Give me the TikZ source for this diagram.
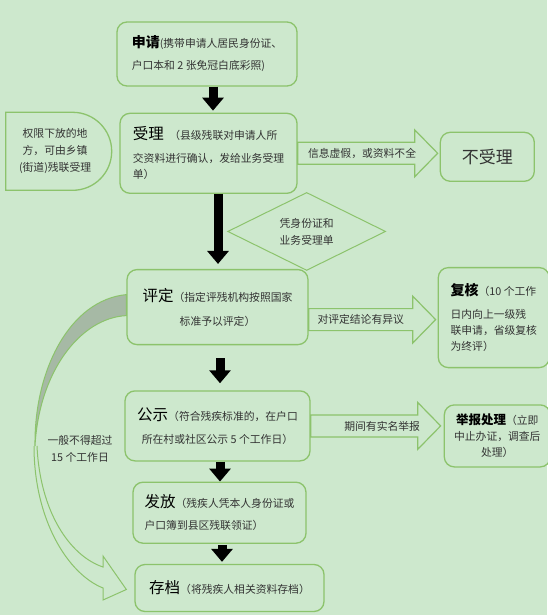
\documentclass[tikz,border=0pt]{standalone}
\usepackage{fontspec}
\setmainfont{Noto Sans CJK SC}
\usepackage{tikz}
\usetikzlibrary{arrows.meta,calc,positioning,shapes.geometric,shapes.misc}
\definecolor{flowbg}{HTML}{CDE8CD}
\definecolor{flowline}{HTML}{8CC36C}
\definecolor{flowtext}{HTML}{333333}
\definecolor{flowshade}{HTML}{A6B9A5}
\newcommand{\flowtitle}[1]{{\fontsize{15.5}{16}\selectfont\color{black}#1}}
\newcommand{\flowtitlebf}[1]{{\fontsize{14}{16}\selectfont\bfseries\color{black}#1}}
\tikzset{%
  flowbox/.style={%
    draw=flowline,
    line width=1.3pt,
    fill=flowbg,
    rounded corners=10pt,
    align=left,
    inner sep=0pt,
    text=flowtext,
    font=\fontsize{10.8}{16}\selectfont
  },
  sidebox/.style={%
    flowbox,
    sharp corners,
    rounded rectangle,
    rounded rectangle west arc=none,
    align=center,
    font=\fontsize{10.8}{17}\selectfont
  },
  diamondbox/.style={%
    diamond,
    draw=flowline,
    line width=1pt,
    fill=flowbg,
    aspect=2.03,
    inner sep=0pt,
    minimum width=158pt,
    minimum height=78pt,
    align=center,
    text=flowtext,
    font=\fontsize{10.8}{17}\selectfont
  },
  arrowlabel/.style={%
    inner sep=0pt,
    align=center,
    text=flowtext,
    font=\fontsize{10.8}{17}\selectfont
  },
  blockarrow/.style={%
    draw=flowline,
    line width=1.2pt,
    fill=flowbg,
    line join=miter,
    to path={($(\tikztostart)+(0,-11)$) -- ($(\tikztotarget)+(-23,-11)$)
      -- ($(\tikztotarget)+(-23,-23.5)$) -- (\tikztotarget)
      -- ($(\tikztotarget)+(-23,23.5)$) -- ($(\tikztotarget)+(-23,11)$)
      -- ($(\tikztostart)+(0,11)$) -- cycle}
  },
  blackarrow/.style={-{Triangle[length=13pt,width=21pt]},line width=9pt,draw=black},
  curvearrow/.style={draw=flowline,line width=1pt}
}
\begin{document}
\begin{tikzpicture}[x=1pt,y=-1pt]
    \useasboundingbox (0,0) rectangle (547,615);
    \fill[flowbg] (0,0) rectangle (547,615);

    \node[flowbox,minimum width=180pt,minimum height=64pt] (shenqing) at (207,54)
      {\flowtitlebf{申请}(携带申请人居民身份证、\\[6pt]户口本和 2 张免冠白底彩照)};
    \node[flowbox,minimum width=177pt,minimum height=80pt,below=26pt of shenqing,xshift=1.5pt] (shouli)
      {\flowtitle{受理}\enspace（县级残联对申请人所\\[7pt]交资料进行确认，发给业务受理\\单）};
    \node[sidebox,minimum width=106pt,minimum height=78pt,left=7pt of shouli,yshift=2pt] (quanxian)
      {权限下放的地\\方，可由乡镇\\(街道)残联受理};
    \node[flowbox,align=center,minimum width=94pt,minimum height=49pt,right=142pt of shouli,yshift=-3.5pt,
      font=\fontsize{17}{17}\selectfont] (bushouli) {不受理};
    \node[diamondbox,anchor=north] (pingzheng) at ([xshift=9pt,yshift=2pt]shouli.south east)
      {凭身份证和\\业务受理单};
    \node[flowbox,align=center,minimum width=181pt,minimum height=75pt,below=75pt of shouli,xshift=9pt] (pingding)
      {\flowtitle{评定}（指定评残机构按照国家\\[8pt]标准予以评定）};
    \node[flowbox,minimum width=111pt,minimum height=100pt,right=129pt of pingding,yshift=-10.5pt] (fuhe)
      {\flowtitlebf{复核}（10 个工作\\[7pt]日内向上一级残\\联申请，省级复核\\为终评）};
    \node[flowbox,align=center,minimum width=185pt,minimum height=70pt,below=45pt of pingding] (gongshi)
      {\flowtitle{公示}（符合残疾标准的，在户口\\[7pt]所在村或社区公示 5 个工作日）};
    \node[flowbox,align=center,minimum width=106pt,minimum height=62pt,right=133pt of gongshi,yshift=-10pt] (jubao)
      {{\fontsize{12.5}{16}\selectfont\bfseries\color{black}举报处理}（立即\\中止办证，调查后\\处理）};
    \node[flowbox,minimum width=173pt,minimum height=61pt,below=20pt of gongshi,xshift=2pt] (fafang)
      {\flowtitle{发放}（残疾人凭本人身份证或\\[6pt]户口簿到县区残联领证）};
    \node[flowbox,minimum width=189pt,minimum height=47pt,below=20pt of fafang,xshift=10pt] (cundang)
      {\flowtitle{存档}（将残疾人相关资料存档）};

    \draw[blackarrow] ([xshift=6pt]shenqing.south) -- ([xshift=4.5pt,yshift=2pt]shouli.north);
    \draw[blackarrow,shorten >=5pt] ([xshift=9.5pt]shouli.south) -- ([xshift=0.5pt]pingding.north);
    \draw[blackarrow,shorten <=13pt,shorten >=7pt] ([xshift=2.5pt]pingding.south) -- ([xshift=2.5pt]gongshi.north);
    \draw[blackarrow] ([xshift=2.5pt]gongshi.south) -- ([xshift=0.5pt]fafang.north);
    \draw[blackarrow,shorten <=1pt,shorten >=2pt] ([xshift=2.5pt]fafang.south) -- ([xshift=2.5pt]fafang.south |- cundang.north);

    \coordinate (xinxitip) at ([xshift=-2pt]bushouli.west |- shouli.east);
    \coordinate (yiyistart) at ([yshift=-12.5pt]pingding.east);
    \coordinate (yiyitip) at ([xshift=-2pt]fuhe.west |- yiyistart);
    \coordinate (jubaotip) at ([xshift=-3pt]jubao.west |- gongshi.east);
    \draw[blockarrow] (shouli.east) to (xinxitip);
    \draw[blockarrow] (yiyistart) to (yiyitip);
    \draw[blockarrow] (gongshi.east) to (jubaotip);
    \node[arrowlabel] (xinxi) at ($(shouli.east)!0.46!(xinxitip)$) {信息虚假，或资料不全};
    \node[arrowlabel] (yiyi) at ($(yiyistart)!0.41!(yiyitip)$) {对评定结论有异议};
    \node[arrowlabel] (shiming) at ($(gongshi.east)!0.55!(jubaotip)$) {期间有实名举报};

    \filldraw[curvearrow,fill=flowshade] ([yshift=12.5pt]pingding.west) .. controls (70,300) and (34,370) .. (35,446)
      .. controls (39,372) and (80,318) .. ([yshift=-8.5pt]pingding.west) -- cycle;
    \draw[curvearrow] (34,446) .. controls (34,520) and (68,574) .. (103,588) -- (103,600)
      -- ([xshift=-8pt,yshift=-1.5pt]cundang.west) -- (103,556) -- (103,567)
      .. controls (70,556) and (40,512) .. (37,446);
    \node[arrowlabel] (shixian) at (80,449) {一般不得超过\\15 个工作日};
  \end{tikzpicture}
\end{document}
